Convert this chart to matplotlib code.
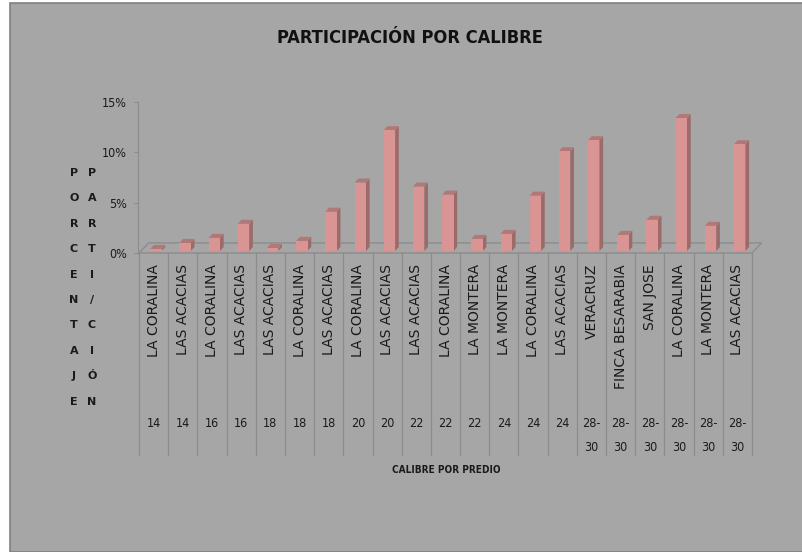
import matplotlib
matplotlib.use('Agg')
import matplotlib.pyplot as plt
from matplotlib import font_manager
from matplotlib.patches import Polygon, Rectangle
from matplotlib.transforms import blended_transform_factory

predios = ['LA CORALINA', 'LAS ACACIAS', 'LA CORALINA', 'LAS ACACIAS', 'LAS ACACIAS',
           'LA CORALINA', 'LAS ACACIAS', 'LA CORALINA', 'LAS ACACIAS', 'LAS ACACIAS',
           'LA CORALINA', 'LA MONTERA', 'LA MONTERA', 'LA CORALINA', 'LAS ACACIAS',
           'VERACRUZ', 'FINCA BESARABIA', 'SAN JOSE', 'LA CORALINA', 'LA MONTERA',
           'LAS ACACIAS']
calibres = ['14', '14', '16', '16', '18', '18', '18', '20', '20', '22', '22', '22',
            '24', '24', '24', '28-\n30', '28-\n30', '28-\n30', '28-\n30', '28-\n30', '28-\n30']
participacion = [0.2, 0.8, 1.3, 2.7, 0.3, 1.0, 3.9, 6.8, 12.0, 6.4, 5.6, 1.2,
                 1.7, 5.5, 9.9, 11.0, 1.6, 3.1, 13.2, 2.5, 10.6]
yticks = [0, 5, 10, 15]

# pick a narrow font if one is installed (the original is Calibri)
fonts = font_manager.fontManager.ttflist
names = {f.name for f in fonts}
if 'Liberation Sans Narrow' in names:
    narrow = dict(family='Liberation Sans Narrow')
    shrink = 1.0
elif any(f.name == 'DejaVu Sans' and f.stretch == 'condensed' for f in fonts):
    narrow = dict(family='DejaVu Sans', stretch='condensed')
    shrink = 0.9
else:
    narrow = dict(family='DejaVu Sans')
    shrink = 0.78

W, H = 803, 552
fig = plt.figure(figsize=(W / 100, H / 100), dpi=100, facecolor='white')

# chart area background
fig.patches.append(Rectangle((10 / W, 0), 1 - 10 / W, 1 - 3 / H, transform=fig.transFigure,
                             facecolor='#a6a6a6', edgecolor='#808080', lw=1.2, zorder=-5))

ax = fig.add_axes([139 / W, 1 - 253 / H, (752 - 139) / W, (253 - 102) / H])
ax.set_facecolor('none')
n = len(participacion)
ax.set_xlim(0, n)
ax.set_ylim(0, 15)
for s in ['top', 'right', 'bottom']:
    ax.spines[s].set_visible(False)
ax.spines['left'].set_color('#8c8c8c')
ax.spines['left'].set_position(('data', -0.03))
ax.set_xticks([])
ax.set_yticks(yticks)
ax.set_yticklabels([f'{v}%' for v in yticks], fontsize=10 * shrink, color='#1a1a1a', **narrow)
ax.tick_params(axis='y', length=3, color='#8c8c8c', pad=5)

# floor of the 3d chart
fdx, fdy = 0.33, 1.0
ax.add_patch(Polygon([(0, 0), (n, 0), (n + fdx, fdy), (fdx, fdy)], closed=True,
                     facecolor='none', edgecolor='#8c8c8c', lw=1.0, clip_on=False))

# bars with a fake depth
base = 0.2
bw = 0.39
dx, dy = 0.125, 0.4
for i, v in enumerate(participacion):
    x0 = i + 0.5 + 0.08 - bw / 2
    x1 = x0 + bw
    y0, y1 = base, base + v
    ax.add_patch(Polygon([(x1, y0), (x1, y1), (x1 + dx, y1 + dy), (x1 + dx, y0 + dy)],
                         closed=True, facecolor='#9c6a68', edgecolor='none', clip_on=False))
    ax.add_patch(Polygon([(x0, y1), (x1, y1), (x1 + dx, y1 + dy), (x0 + dx, y1 + dy)],
                         closed=True, facecolor='#b07876', edgecolor='none', clip_on=False))
ax.bar([i + 0.5 + 0.08 for i in range(n)], participacion, width=bw, bottom=base,
       color='#d99594', edgecolor='none', clip_on=False)

# category table below the axis
tr = blended_transform_factory(ax.transData, fig.transFigure)
for i in range(n + 1):
    ax.plot([i, i], [1 - 253 / H, 1 - 455 / H], color='#8c8c8c', lw=0.9,
            transform=tr, clip_on=False)
for i in range(n):
    ax.text(i + 0.5, 1 - 264 / H, predios[i], rotation=90, ha='center', va='top',
            fontsize=10, color='#1a1a1a', transform=tr)
    ax.text(i + 0.5, 1 - 417 / H, calibres[i], ha='center', va='top', fontsize=10 * shrink,
            color='#1a1a1a', linespacing=2.1, transform=tr, **narrow)

fig.text(446 / W, 1 - 470 / H, 'CALIBRE POR PREDIO', ha='center', va='center',
         fontsize=8 * shrink, fontweight='bold', color='#1a1a1a', **narrow)
fig.text(410 / W, 1 - 38 / H, 'PARTICIPACIÓN POR CALIBRE', ha='center', va='center',
         fontsize=14.5 * shrink, fontweight='bold', color='#111111', **narrow)

# vertical stacked axis title
col1 = list('PORCENTAJE')
col2 = ['P', 'A', 'R', 'T', 'I', '/', 'C', 'I', 'Ó', 'N']
for k in range(len(col1)):
    yk = 1 - (173 + k * 25.4) / H
    fig.text(74 / W, yk, col1[k], ha='center', va='center', fontsize=8,
             fontweight='bold', color='#1a1a1a')
    fig.text(92 / W, yk, col2[k], ha='center', va='center', fontsize=8,
             fontweight='bold', color='#1a1a1a')

fig.savefig('out.png', dpi=100, facecolor='white')
